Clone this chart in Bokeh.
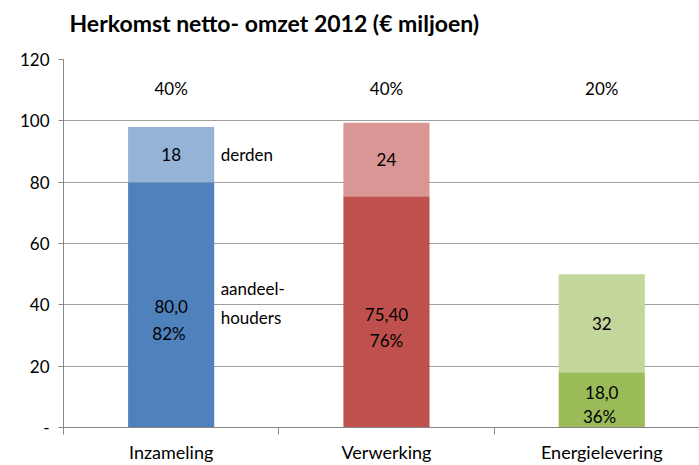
from bokeh.plotting import figure
from bokeh.models import FixedTicker, Range1d, Title
from bokeh.core.properties import value
from bokeh.embed import file_html
from bokeh.resources import INLINE

title_text = "Herkomst netto- omzet 2012 (€ miljoen)"
categories = ["Inzameling", "Verwerking", "Energielevering"]
aandeelhouders = [80.0, 75.4, 18.0]
derden = [18, 24, 32]
aandeel_value_labels = ["80,0", "75,40", "18,0"]
aandeel_pct_labels = [" 82%", "76%", " 36%"]
derden_labels = ["18", "24", "32"]
share_labels = ["40%", "40%", "20%"]
dark_colors = ["#4F81BD", "#C0504D", "#9BBB59"]
light_colors = ["#95B3D7", "#DA9694", "#C3D69B"]
y_ticks = [0, 20, 40, 60, 80, 100, 120]
# label anchor positions (data units)
value_label_y = [39.3, 36.7, 11.4]
pct_label_y = [30.6, 28.3, 3.6]
share_label_y = 110.6

FONT = "Lato"
GRID = "#A0A0A0"
AXIS = "#868686"

xs = [i + 0.5 for i in range(len(categories))]
tops = [a + d for a, d in zip(aandeelhouders, derden)]
mids = [(a + t) / 2 for a, t in zip(aandeelhouders, tops)]

p = figure(width=699, height=465, output_backend="svg", toolbar_location=None,
           title=None,
           x_range=Range1d(0, 2.954), y_range=Range1d(0, 120),
           min_border_left=63, min_border_right=0, min_border_top=59, min_border_bottom=37)
p.outline_line_color = None
p.background_fill_color = "white"
p.border_fill_color = "white"

# spacer (closest to the frame), then the real title above it
p.add_layout(Title(text=" ", text_font_size="1px", standoff=20), "above")
p.add_layout(Title(text=title_text, text_font=FONT, text_font_size="23px",
                   text_font_style="bold", text_color="black", align="left",
                   offset=6, standoff=0), "above")

p.vbar(x=xs, width=0.4, bottom=0, top=aandeelhouders, fill_color=dark_colors, line_color=None)
p.vbar(x=xs, width=0.4, bottom=aandeelhouders, top=tops, fill_color=light_colors, line_color=None)

common = dict(text_font=value(FONT), text_font_size="17px", text_color="black",
              text_align="center", text_baseline="middle")
p.text(x=xs, y=mids, text=derden_labels, **common)
p.text(x=xs, y=value_label_y, text=aandeel_value_labels, **common)
p.text(x=xs, y=pct_label_y, text=aandeel_pct_labels, **common)
p.text(x=xs, y=[share_label_y] * 3, text=share_labels, **common)

side = dict(text_font=value(FONT), text_font_size="17px", text_color="black",
            text_align="left", text_baseline="middle")
p.text(x=[0.73], y=[mids[0]], text=["derden"], **side)
p.text(x=[0.73, 0.73], y=[45.2, 35.8], text=["aandeel-", "houders"], **side)

# y axis
p.yaxis.ticker = FixedTicker(ticks=y_ticks)
p.yaxis.major_label_overrides = {0: "-"}
p.yaxis.axis_line_color = AXIS
p.yaxis.major_tick_line_color = AXIS
p.yaxis.major_tick_out = 5
p.yaxis.major_tick_in = 0
p.yaxis.minor_tick_line_color = None
p.yaxis.major_label_standoff = 9
p.yaxis.major_label_text_font = FONT
p.yaxis.major_label_text_font_size = "17px"
p.yaxis.major_label_text_color = "black"

p.ygrid.ticker = FixedTicker(ticks=y_ticks)
p.ygrid.grid_line_color = GRID
p.ygrid.grid_line_width = 1.2
p.xgrid.grid_line_color = None

# x axis
p.xaxis.ticker = FixedTicker(ticks=xs, minor_ticks=[0, 1, 2, 3])
p.xaxis.major_label_overrides = {x: c for x, c in zip(xs, categories)}
p.xaxis.axis_line_color = AXIS
p.xaxis.major_tick_line_color = None
p.xaxis.major_tick_out = 0
p.xaxis.major_tick_in = 0
p.xaxis.minor_tick_line_color = AXIS
p.xaxis.minor_tick_out = 7
p.xaxis.minor_tick_in = 0
p.xaxis.major_label_standoff = 6
p.xaxis.major_label_text_font = FONT
p.xaxis.major_label_text_font_size = "18px"
p.xaxis.major_label_text_color = "black"

open("out.html", "w").write(file_html(p, INLINE))
